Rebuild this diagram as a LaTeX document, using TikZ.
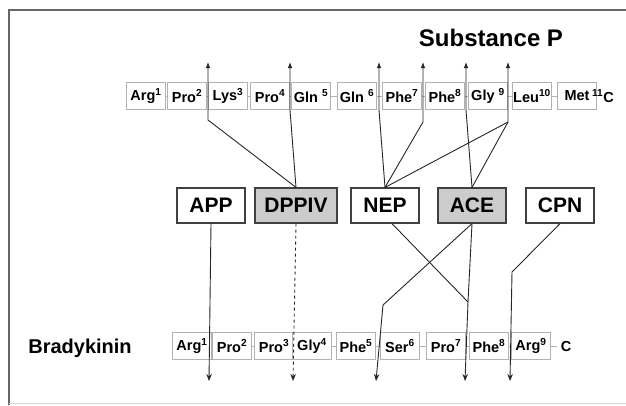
\documentclass[tikz,border=0pt]{standalone}
\usepackage{fontspec}
\setmainfont{Liberation Sans}
\usetikzlibrary{arrows.meta}

\begin{document}
\begin{tikzpicture}[x=1pt,y=-1pt,
    res/.style={draw=gray!60,line width=0.8pt,fill=white,minimum width=39pt,minimum height=27pt,inner sep=0pt,font=\fontsize{14.5}{16}\selectfont\bfseries},
    enz/.style={draw=black!75,line width=1.2pt,fill=white,minimum width=68pt,minimum height=35pt,inner sep=0pt,font=\fontsize{21}{23}\selectfont\bfseries},
    hit/.style={enz,fill=gray!40},
    bond/.style={draw=gray!60,line width=0.8pt},
    cut/.style={draw=black!85,line width=0.9pt},
    up/.style={cut,-{Latex[length=6pt,width=4.5pt]}},
    down/.style={cut,-{Stealth[length=7pt,width=5.5pt]}}]
    \useasboundingbox (0,0) rectangle (626,405);
    \draw[black!60,line width=1.6pt] (9,405) -- (9,10) -- (626,10);
    \draw[black!15,line width=0.8pt] (9,403) -- (626,403);

    \node[font=\fontsize{24}{26}\selectfont\bfseries] (sptitle) at (491,38) {Substance P};
    \node[font=\fontsize{20}{22}\selectfont\bfseries] (bktitle) at (80,348) {Bradykinin};

    \node[res] (sp1) at (146,96) {Arg\textsuperscript{1}};
    \node[res] (sp2) at (187,96) {Pro\textsuperscript{2}};
    \node[res] (sp3) at (228,96) {Lys\textsuperscript{3}};
    \node[res] (sp4) at (270,96) {Pro\textsuperscript{4}};
    \node[res] (sp5) at (311,96) {Gln \textsuperscript{5}};
    \node[res] (sp6) at (357,96) {Gln \textsuperscript{6}};
    \node[res] (sp7) at (402,96) {Phe\textsuperscript{7}};
    \node[res] (sp8) at (445,96) {Phe\textsuperscript{8}};
    \node[res] (sp9) at (488,96) {Gly \textsuperscript{9}};
    \node[res] (sp10) at (532,96) {Leu\textsuperscript{10}};
    \node[res] (sp11) at (577,96) {Met\hspace{9pt}};
    \node[anchor=west,inner sep=0pt,font=\fontsize{14.5}{16}\selectfont\bfseries] (spc) at ([xshift=-5pt]sp11.east) {\textsuperscript{11}C};

    \node[res] (bk1) at (192,346) {Arg\textsuperscript{1}};
    \node[res] (bk2) at (232,346) {Pro\textsuperscript{2}};
    \node[res] (bk3) at (274,346) {Pro\textsuperscript{3}};
    \node[res] (bk4) at (312,346) {Gly\textsuperscript{4}};
    \node[res] (bk5) at (356,346) {Phe\textsuperscript{5}};
    \node[res] (bk6) at (400,346) {Ser\textsuperscript{6}};
    \node[res] (bk7) at (446,346) {Pro\textsuperscript{7}};
    \node[res] (bk8) at (489,346) {Phe\textsuperscript{8}};
    \node[res] (bk9) at (531,346) {Arg\textsuperscript{9}};
    \node[font=\fontsize{14.5}{16}\selectfont\bfseries] (bkc) at (566,346) {C};

    \foreach \a/\b in {sp1/sp2,sp2/sp3,sp3/sp4,sp4/sp5,sp5/sp6,sp6/sp7,sp7/sp8,sp8/sp9,sp9/sp10,sp10/sp11,
                       bk1/bk2,bk2/bk3,bk3/bk4,bk4/bk5,bk5/bk6,bk6/bk7,bk7/bk8,bk8/bk9,bk9/bkc}
        \draw[bond] (\a.east) -- (\b.west);

    \node[enz] (app) at (211,205.5) {APP};
    \node[hit,minimum width=82pt] (dppiv) at (296,205.5) {DPPIV};
    \node[enz] (nep) at (385,205.5) {NEP};
    \node[hit] (ace) at (472,205.5) {ACE};
    \node[enz] (cpn) at (560,205.5) {CPN};

    \coordinate (b23) at (208,62);  \coordinate (k23) at (208,120);
    \coordinate (b45) at (290,62);  \coordinate (k45) at (290,110);
    \coordinate (b67) at (379,62);  \coordinate (k67) at (379,110);
    \coordinate (b78) at (423,62);  \coordinate (k78) at (423,122);
    \coordinate (b89) at (466,62);  \coordinate (k89) at (466,110);
    \coordinate (b910) at (508,62); \coordinate (k910) at (508,122);

    \draw[up] (dppiv.north) -- (k23) -- (b23);
    \draw[up] (dppiv.north) -- (k45) -- (b45);
    \draw[up] (nep.north) -- (k67) -- (b67);
    \draw[up] (nep.north) -- (k78) -- (b78);
    \draw[cut] (nep.north) -- (k910);
    \draw[up] (ace.north) -- (k910) -- (b910);
    \draw[up] (ace.north) -- (k89) -- (b89);

    \coordinate (p12) at (209,381);
    \coordinate (p34) at (293,381);
    \coordinate (p56) at (376,381); \coordinate (q56) at (383,305);
    \coordinate (p78) at (465,381); \coordinate (q78) at (468,302);
    \coordinate (p89) at (510,381); \coordinate (q89) at (512,272);

    \draw[down] (app.south) -- (p12);
    \draw[down,dashed] (dppiv.south) -- (p34);
    \draw[cut] ([xshift=7pt]nep.south) -- (q78);
    \draw[down] (ace.south) -- (q78) -- (p78);
    \draw[down] (ace.south) -- (q56) -- (p56);
    \draw[down] (cpn.south) -- (q89) -- (p89);
\end{tikzpicture}
\end{document}
